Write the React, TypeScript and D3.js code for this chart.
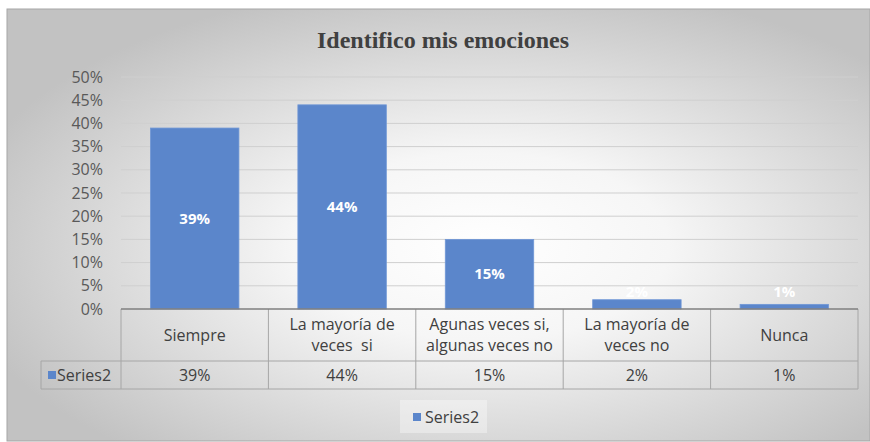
import { useEffect, useRef } from 'react';
import * as d3 from 'd3';

const title = 'Identifico mis emociones';
const categories = ['Siempre', 'La mayoría de\nveces  si', 'Agunas veces si,\nalgunas veces no', 'La mayoría de\nveces no', 'Nunca'];
const seriesName = 'Series2';
const values = [0.39, 0.44, 0.15, 0.02, 0.01];
const valueLabels = ['39%', '44%', '15%', '2%', '1%'];

const W = 870;
const H = 442;
const FONT = '"Open Sans", "Noto Sans", sans-serif';

export default function App() {
  const svgRef = useRef<SVGSVGElement>(null);

  useEffect(() => {
    if (!svgRef.current) return;
    const svg = d3.select(svgRef.current);
    svg.selectAll('*').remove();

    const plot = { left: 121, right: 858, top: 77, bottom: 309 };
    const rowHead = 52;
    const rowSeries = 28;
    const tableLeft = 41;

    // fond en dégradé
    const defs = svg.append('defs');
    const grad = defs.append('radialGradient')
      .attr('id', 'bg')
      .attr('cx', '0.55').attr('cy', '0.55').attr('r', '0.62');
    grad.append('stop').attr('offset', '0').attr('stop-color', '#ffffff');
    grad.append('stop').attr('offset', '0.35').attr('stop-color', '#f6f6f6');
    grad.append('stop').attr('offset', '1').attr('stop-color', '#c2c2c2');

    svg.append('rect')
      .attr('x', 7).attr('y', 9).attr('width', W - 7).attr('height', 432)
      .attr('fill', 'url(#bg)')
      .attr('stroke', '#a6a6a6').attr('stroke-width', 1);

    svg.append('text')
      .attr('x', 443).attr('y', 48)
      .attr('text-anchor', 'middle')
      .attr('font-family', '"Liberation Serif", "Times New Roman", serif')
      .attr('font-weight', 'bold')
      .attr('font-size', 24)
      .attr('fill', '#404040')
      .text(title);

    const y = d3.scaleLinear().domain([0, 0.5]).range([plot.bottom, plot.top]);
    const x = d3.scaleBand<string>().domain(categories)
      .range([plot.left, plot.right]).paddingInner(0.4).paddingOuter(0.2);
    const col = d3.scaleBand<string>().domain(categories).range([plot.left, plot.right]);
    const pct = d3.format('.0%');

    // lignes de grille
    const ticks = y.ticks(10);
    svg.append('g').selectAll('line')
      .data(ticks.filter(t => t > 0))
      .enter().append('line')
      .attr('x1', plot.left).attr('x2', plot.right)
      .attr('y1', d => y(d)).attr('y2', d => y(d))
      .attr('stroke', '#cfcfcf').attr('stroke-width', 1);

    svg.append('g').selectAll('text')
      .data(ticks)
      .enter().append('text')
      .attr('x', 103).attr('y', d => y(d))
      .attr('dy', '0.35em')
      .attr('text-anchor', 'end')
      .attr('font-family', FONT).attr('font-size', 16)
      .attr('fill', '#595959')
      .text(d => pct(d));

    // barres
    svg.append('g').selectAll('rect')
      .data(values)
      .enter().append('rect')
      .attr('x', (_, i) => x(categories[i])!)
      .attr('width', x.bandwidth())
      .attr('y', d => y(d))
      .attr('height', d => y(0) - y(d))
      .attr('fill', '#5b86cb')
      .attr('stroke', '#7097d6').attr('stroke-width', 0.8);

    svg.append('g').selectAll('text')
      .data(values)
      .enter().append('text')
      .attr('x', (_, i) => x(categories[i])! + x.bandwidth() / 2)
      .attr('y', d => Math.min((y(d) + y(0)) / 2, y(0) - 17))
      .attr('dy', '0.35em')
      .attr('text-anchor', 'middle')
      .attr('font-family', FONT).attr('font-size', 15).attr('font-weight', 'bold')
      .attr('fill', '#ffffff')
      .text((_, i) => valueLabels[i]);

    // tableau de données
    const tg = svg.append('g').attr('fill', 'none').attr('stroke', '#a6a6a6').attr('stroke-width', 1);
    const r1 = plot.bottom + rowHead;
    const r2 = r1 + rowSeries;
    tg.append('line').attr('x1', tableLeft).attr('x2', plot.right).attr('y1', r1).attr('y2', r1);
    tg.append('line').attr('x1', tableLeft).attr('x2', plot.right).attr('y1', r2).attr('y2', r2);
    tg.append('line').attr('x1', tableLeft).attr('x2', tableLeft).attr('y1', r1).attr('y2', r2);
    categories.forEach(c => {
      tg.append('line').attr('x1', col(c)!).attr('x2', col(c)!).attr('y1', plot.bottom).attr('y2', r2);
    });
    tg.append('line').attr('x1', plot.right).attr('x2', plot.right).attr('y1', plot.bottom).attr('y2', r2);

    svg.append('line')
      .attr('x1', plot.left).attr('x2', plot.right)
      .attr('y1', plot.bottom).attr('y2', plot.bottom)
      .attr('stroke', '#7f7f7f').attr('stroke-width', 1.5);

    const lineH = 21;
    categories.forEach(c => {
      const lines = c.split('\n');
      const cy = plot.bottom + rowHead / 2;
      const t = svg.append('text')
        .attr('text-anchor', 'middle')
        .attr('font-family', FONT).attr('font-size', 16)
        .attr('fill', '#404040')
        .style('white-space', 'pre');
      lines.forEach((l, i) => {
        t.append('tspan')
          .attr('x', col(c)! + col.bandwidth() / 2)
          .attr('y', cy + (i - (lines.length - 1) / 2) * lineH)
          .attr('dy', '0.35em')
          .text(l);
      });
    });

    svg.append('g').selectAll('text')
      .data(valueLabels)
      .enter().append('text')
      .attr('x', (_, i) => col(categories[i])! + col.bandwidth() / 2)
      .attr('y', r1 + rowSeries / 2)
      .attr('dy', '0.35em')
      .attr('text-anchor', 'middle')
      .attr('font-family', FONT).attr('font-size', 16)
      .attr('fill', '#404040')
      .text(d => d);

    svg.append('rect')
      .attr('x', 48).attr('y', r1 + rowSeries / 2 - 4).attr('width', 8).attr('height', 8)
      .attr('fill', '#5b86cb');
    svg.append('text')
      .attr('x', 57).attr('y', r1 + rowSeries / 2).attr('dy', '0.35em')
      .attr('font-family', FONT).attr('font-size', 16)
      .attr('fill', '#404040')
      .text(seriesName);

    // légende
    svg.append('rect')
      .attr('x', 400).attr('y', 400).attr('width', 87).attr('height', 33)
      .attr('fill', '#ffffff').attr('opacity', 0.35);
    svg.append('rect')
      .attr('x', 413).attr('y', 413).attr('width', 8).attr('height', 8)
      .attr('fill', '#5b86cb');
    svg.append('text')
      .attr('x', 425).attr('y', 417).attr('dy', '0.35em')
      .attr('font-family', FONT).attr('font-size', 16)
      .attr('fill', '#404040')
      .text(seriesName);
  }, []);

  return (
    <svg ref={svgRef} width={W} height={H}
      style={{ position: 'absolute', left: 0, top: 0, display: 'block' }} />
  );
}
